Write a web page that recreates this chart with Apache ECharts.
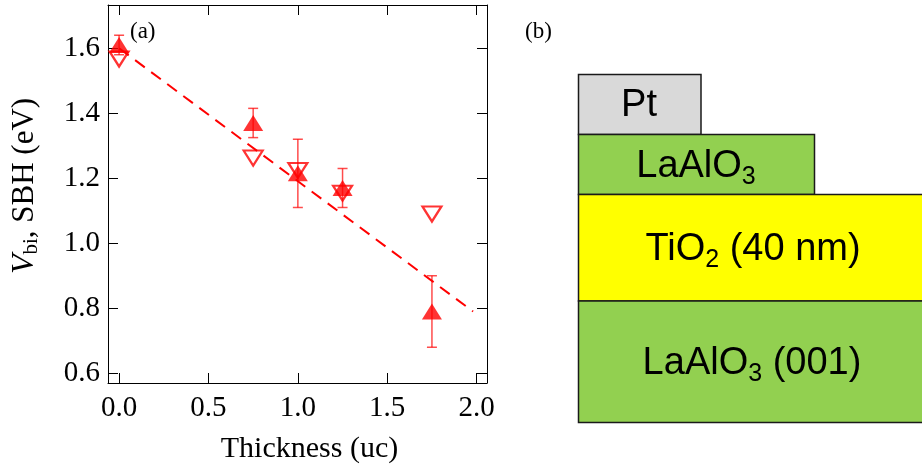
<!DOCTYPE html>
<html>
<head>
<meta charset="utf-8">
<script src="https://cdn.jsdelivr.net/npm/echarts@6/dist/echarts.min.js"></script>
<style>html,body{margin:0;padding:0;background:#fff;}#c{width:922px;height:464px;}</style>
</head>
<body>
<div id="c"></div>
<script>
// ---- data ----
var thickness = [0, 0.75, 1.0, 1.25, 1.75];
var vbi = [1.61, 1.37, 1.215, 1.17, 0.79];
var vbiErr = [0.03, 0.045, 0.105, 0.06, 0.11];
var sbh = [1.567, 1.262, 1.224, 1.154, 1.09];
var fitX = [0, 1.98];
var fitY = [1.6, 0.79];
var xTicks = [0, 0.5, 1.0, 1.5, 2.0];
var yTicks = [0.6, 0.8, 1.0, 1.2, 1.4, 1.6];
var layers = ['Pt', 'LaAlO3', 'TiO2 (40 nm)', 'LaAlO3 (001)'];

var RED = '#ff0000';
var serif = "'Liberation Serif','Times New Roman',serif";
var sans = "'Liberation Sans',Arial,sans-serif";

var filled = thickness.map(function (x, i) { return [x, vbi[i]]; });
var open = thickness.map(function (x, i) { return [x, sbh[i]]; });
var errs = thickness.map(function (x, i) { return [x, vbi[i] - vbiErr[i], vbi[i] + vbiErr[i]]; });
var fit = fitX.map(function (x, i) { return [x, fitY[i]]; });

var xMin = -0.062, xMax = 2.058, yMin = 0.57, yMax = 1.733;

var chart = echarts.init(document.getElementById('c'), null, { renderer: 'canvas' });

var subRich = function (size, pad) { return { fontFamily: sans, fontSize: size, color: '#000', padding: [pad, 0, 0, 0] }; };

var option = {
  animation: false,
  backgroundColor: '#fff',
  grid: { left: 108, top: 5, width: 379, height: 378, containLabel: false, outerBoundsMode: 'none' },
  xAxis: [{
    type: 'value', min: xMin, max: xMax, position: 'bottom',
    axisLine: { show: true, onZero: false, lineStyle: { color: '#000', width: 1 } },
    splitLine: { show: false },
    axisTick: { show: true, inside: true, length: 10, customValues: xTicks, lineStyle: { color: '#000' } },
    axisLabel: { show: true, customValues: xTicks, margin: 11, fontFamily: serif, fontSize: 29, color: '#000',
      formatter: function (v) { return v.toFixed(1); } },
    name: 'Thickness (uc)', nameLocation: 'middle', nameGap: 51, nameMoveOverlap: false,
    nameTextStyle: { fontFamily: serif, fontSize: 30, color: '#000', padding: [0, 0, 0, 24] }
  }, {
    type: 'value', min: xMin, max: xMax, position: 'top',
    axisLine: { show: true, onZero: false, lineStyle: { color: '#000', width: 1 } },
    splitLine: { show: false },
    axisTick: { show: true, inside: true, length: 10, customValues: xTicks, lineStyle: { color: '#000' } },
    axisLabel: { show: false }
  }],
  yAxis: [{
    type: 'value', min: yMin, max: yMax, position: 'left',
    axisLine: { show: true, onZero: false, lineStyle: { color: '#000', width: 1 } },
    splitLine: { show: false },
    axisTick: { show: true, inside: true, length: 10, customValues: yTicks, lineStyle: { color: '#000' } },
    axisLabel: { show: true, customValues: yTicks, margin: 8, fontFamily: serif, fontSize: 29, color: '#000',
      formatter: function (v) { return v.toFixed(1); } },
    name: '{v|V}{s|bi}{n|, SBH (eV)}', nameLocation: 'middle', nameRotate: 90, nameGap: 66, nameMoveOverlap: false,
    nameTextStyle: {
      fontFamily: serif, fontSize: 31, color: '#000', padding: [0, 0, 0, 16],
      rich: {
        v: { fontFamily: serif, fontSize: 32, fontStyle: 'italic', color: '#000' },
        s: { fontFamily: serif, fontSize: 21, color: '#000', padding: [14, 0, 0, 0] },
        n: { fontFamily: serif, fontSize: 31, color: '#000' }
      }
    }
  }, {
    type: 'value', min: yMin, max: yMax, position: 'right',
    axisLine: { show: true, onZero: false, lineStyle: { color: '#000', width: 1 } },
    splitLine: { show: false },
    axisTick: { show: true, inside: true, length: 10, customValues: yTicks, lineStyle: { color: '#000' } },
    axisLabel: { show: false }
  }],
  series: [{
    type: 'line', data: fit, showSymbol: false, symbol: 'none', z: 2,
    lineStyle: { color: RED, width: 2, type: [12, 8] }
  }, {
    type: 'custom', data: errs, z: 3,
    renderItem: function (params, api) {
      var x = api.value(0);
      var lo = api.coord([x, api.value(1)]);
      var hi = api.coord([x, api.value(2)]);
      var hw = 5;
      var st = { stroke: 'rgba(255,0,0,0.7)', lineWidth: 1.5 };
      return { type: 'group', children: [
        { type: 'line', shape: { x1: lo[0], y1: lo[1], x2: hi[0], y2: hi[1] }, style: st },
        { type: 'line', shape: { x1: lo[0] - hw, y1: lo[1], x2: lo[0] + hw, y2: lo[1] }, style: st },
        { type: 'line', shape: { x1: hi[0] - hw, y1: hi[1], x2: hi[0] + hw, y2: hi[1] }, style: st }
      ] };
    }
  }, {
    type: 'scatter', data: open, symbol: 'triangle', symbolRotate: 180, symbolSize: [19, 15], z: 4,
    itemStyle: { color: 'rgba(0,0,0,0)', borderColor: RED, borderWidth: 2.2 }
  }, {
    type: 'scatter', data: filled, symbol: 'triangle', symbolSize: [20, 16], z: 5,
    itemStyle: { color: RED }
  }],
  graphic: [
    { type: 'text', x: 130, y: 32, style: { text: '(a)', fontFamily: serif, fontSize: 23, fill: '#000', verticalAlign: 'middle', align: 'left' } },
    { type: 'text', x: 525, y: 32, style: { text: '(b)', fontFamily: serif, fontSize: 23, fill: '#000', verticalAlign: 'middle', align: 'left' } },
    { type: 'rect', shape: { x: 578.5, y: 74.5, width: 122.5, height: 60 }, style: { fill: '#d9d9d9', stroke: '#1a1a1a', lineWidth: 1.5 } },
    { type: 'rect', shape: { x: 578.5, y: 134.5, width: 236, height: 60 }, style: { fill: '#92d050', stroke: '#1a1a1a', lineWidth: 1.5 } },
    { type: 'rect', shape: { x: 578.5, y: 194.5, width: 360, height: 106.5 }, style: { fill: '#ffff00', stroke: '#1a1a1a', lineWidth: 1.5 } },
    { type: 'rect', shape: { x: 578.5, y: 301, width: 360, height: 121.5 }, style: { fill: '#92d050', stroke: '#1a1a1a', lineWidth: 1.5 } },
    { type: 'text', x: 639, y: 106, style: { text: layers[0], fontFamily: sans, fontSize: 38, fill: '#000', align: 'center', verticalAlign: 'middle' } },
    { type: 'text', x: 696, y: 167, style: {
      text: '{m|LaAlO}{s|3}', align: 'center', verticalAlign: 'middle',
      rich: { m: { fontFamily: sans, fontSize: 38, color: '#000' }, s: subRich(25, 20) } } },
    { type: 'text', x: 753, y: 250, style: {
      text: '{m|TiO}{s|2}{m| (40 nm)}', align: 'center', verticalAlign: 'middle',
      rich: { m: { fontFamily: sans, fontSize: 38, color: '#000' }, s: subRich(25, 20) } } },
    { type: 'text', x: 752, y: 364, style: {
      text: '{m|LaAlO}{s|3}{m| (001)}', align: 'center', verticalAlign: 'middle',
      rich: { m: { fontFamily: sans, fontSize: 38, color: '#000' }, s: subRich(25, 20) } } }
  ]
};
chart.setOption(option);
</script>
</body>
</html>
